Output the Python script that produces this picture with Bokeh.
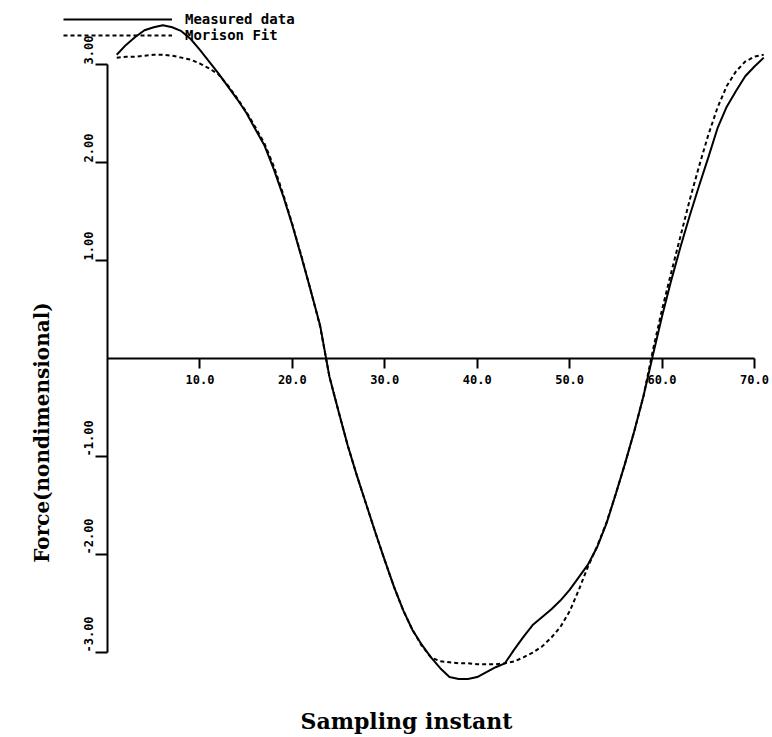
import math
from bokeh.plotting import figure
from bokeh.models import (Range1d, FixedTicker, Legend, LegendItem, Label,
                          ColumnDataSource, LinearAxis, NumeralTickFormatter,
                          CustomJSTickFormatter)
from bokeh.core.properties import value
from bokeh.embed import file_html
from bokeh.resources import INLINE

# ---------------- data ----------------
sample = list(range(1, 72))
measured = [3.10, 3.20, 3.28, 3.35, 3.38, 3.40, 3.38, 3.34, 3.26, 3.15,
            3.03, 2.91, 2.78, 2.65, 2.51, 2.34, 2.17, 1.93, 1.66, 1.36,
            1.03, 0.69, 0.34, -0.18, -0.54, -0.89, -1.20, -1.49, -1.78, -2.06,
            -2.33, -2.57, -2.77, -2.92, -3.05, -3.16, -3.25, -3.27, -3.27, -3.25,
            -3.20, -3.15, -3.11, -2.97, -2.84, -2.72, -2.64, -2.56, -2.47, -2.36,
            -2.23, -2.10, -1.92, -1.68, -1.38, -1.07, -0.74, -0.38, 0.03, 0.43,
            0.80, 1.14, 1.46, 1.76, 2.05, 2.35, 2.57, 2.73, 2.88, 2.98,
            3.07]
morison = [3.07, 3.08, 3.08, 3.09, 3.10, 3.10, 3.09, 3.07, 3.05, 3.01,
           2.96, 2.90, 2.79, 2.66, 2.52, 2.36, 2.19, 1.96, 1.68, 1.37,
           1.04, 0.69, 0.33, -0.18, -0.54, -0.89, -1.20, -1.49, -1.78, -2.06,
           -2.33, -2.57, -2.77, -2.93, -3.05, -3.09, -3.10, -3.11, -3.11, -3.12,
           -3.12, -3.12, -3.11, -3.09, -3.05, -3.00, -2.94, -2.85, -2.74, -2.58,
           -2.36, -2.12, -1.91, -1.67, -1.38, -1.07, -0.74, -0.38, 0.08, 0.50,
           0.88, 1.25, 1.62, 1.96, 2.28, 2.56, 2.78, 2.93, 3.03, 3.08,
           3.10]

x_ticks = [10, 20, 30, 40, 50, 60, 70]
y_ticks = [3, 2, 1, -1, -2, -3]
y_tick_labels = ["3.00", "2.00", "1.00", "-1.00", "-2.00", "-3.00"]

# ---------------- figure ----------------
W, H = 772, 737
p = figure(width=W, height=H, title=None,
           x_range=Range1d(-11.576, 71.95), y_range=Range1d(-3.867, 3.653),
           output_backend="svg", toolbar_location=None,
           x_axis_type=None, y_axis_type=None, min_border=0)
p.outline_line_color = None
p.xgrid.visible = False
p.ygrid.visible = False

tick_font = "DejaVu Sans Mono"

xaxis = LinearAxis(fixed_location=0, bounds=(0, 70),
                   ticker=FixedTicker(ticks=x_ticks),
                   formatter=NumeralTickFormatter(format="0.0"),
                   major_tick_in=0, major_tick_out=10,
                   minor_tick_in=0, minor_tick_out=0,
                   axis_line_width=2, major_tick_line_width=2,
                   major_label_standoff=6,
                   major_label_text_font=tick_font,
                   major_label_text_font_style="bold",
                   major_label_text_font_size="12px",
                   major_label_text_color="black")
p.add_layout(xaxis, "below")

yaxis = LinearAxis(fixed_location=0, bounds=(-3, 3),
                   ticker=FixedTicker(ticks=y_ticks),
                   formatter=CustomJSTickFormatter(code="return ''"),
                   major_tick_in=0, major_tick_out=12,
                   minor_tick_in=0, minor_tick_out=0,
                   axis_line_width=2, major_tick_line_width=2,
                   major_label_text_font_size="1px")
p.add_layout(yaxis, "left")

# rotated y tick labels, starting at the tick and reading upward
ylab_x = -2.1
ysrc = ColumnDataSource(dict(x=[ylab_x] * len(y_ticks), y=y_ticks, t=y_tick_labels))
p.text(x="x", y="y", text="t", source=ysrc, angle=math.pi / 2,
       text_align="left", text_baseline="middle",
       text_font=value(tick_font), text_font_style="bold",
       text_font_size="12px", text_color="black")

# curves
r1 = p.line(sample, measured, line_width=2, line_color="black")
r2 = p.line(sample, morison, line_width=2, line_color="black", line_dash="4 3")

legend = Legend(items=[LegendItem(label="Measured data", renderers=[r1]),
                       LegendItem(label="Morison Fit", renderers=[r2])],
                location=(63, 694), orientation="vertical",
                glyph_width=109, glyph_height=14, label_height=14,
                label_standoff=13, spacing=0, padding=0, margin=0,
                border_line_color=None, background_fill_alpha=0,
                label_text_font=tick_font, label_text_font_style="bold",
                label_text_font_size="14px", label_text_color="black")
p.add_layout(legend, "center")

title_font = "DejaVu Serif"
p.add_layout(Label(x=41, y=305, x_units="screen", y_units="screen",
                   text="Force(nondimensional)", angle=math.pi / 2,
                   text_align="center", text_baseline="middle",
                   text_font=title_font, text_font_style="bold",
                   text_font_size="20px", text_color="black"))
p.add_layout(Label(x=406, y=17, x_units="screen", y_units="screen",
                   text="Sampling instant",
                   text_align="center", text_baseline="alphabetic",
                   text_font=title_font, text_font_style="bold",
                   text_font_size="22px", text_color="black"))

open("out.html", "w").write(file_html(p, INLINE))
